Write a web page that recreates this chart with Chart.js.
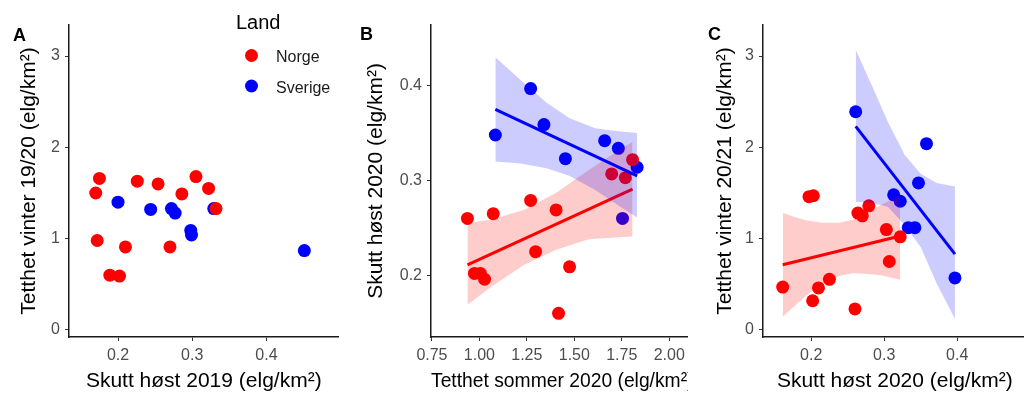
<!DOCTYPE html>
<html>
<head>
<meta charset="utf-8">
<script src="https://cdn.jsdelivr.net/npm/chart.js@4.4.0/dist/chart.umd.min.js"></script>
<style>
  html, body { margin: 0; padding: 0; background: #fff; overflow: hidden; width: 1024px; height: 394px; }
  canvas { position: absolute; top: 0; }
</style>
</head>
<body>
<canvas id="chartA" width="345" height="394" style="left:0px"></canvas>
<canvas id="chartB" width="353" height="394" style="left:347px"></canvas>
<canvas id="chartC" width="345" height="394" style="left:688px"></canvas>
<script>
// ---- data ----
var landLabels = ['Norge', 'Sverige'];
var landColors = ['#ff0000', '#0000ff'];
var bandColors = ['rgba(255,0,0,0.2)', 'rgba(0,0,255,0.2)'];

// A: skutt høst 2019 vs tetthet vinter 19/20
var aNorgeX   = [0.170, 0.175, 0.172, 0.189, 0.202, 0.210, 0.226, 0.254, 0.286, 0.270, 0.305, 0.322, 0.332];
var aNorgeY   = [1.50, 1.66, 0.98, 0.60, 0.59, 0.91, 1.63, 1.60, 1.49, 0.91, 1.68, 1.55, 1.33];
var aSverigeX = [0.200, 0.244, 0.272, 0.277, 0.298, 0.299, 0.329, 0.451];
var aSverigeY = [1.40, 1.32, 1.33, 1.28, 1.09, 1.04, 1.33, 0.87];

// B: tetthet sommer 2020 vs skutt høst 2020
var bNorgeX   = [0.937, 1.073, 1.270, 1.404, 1.296, 1.475, 1.417, 0.974, 1.005, 1.027, 1.697, 1.769, 1.807];
var bNorgeY   = [0.260, 0.265, 0.279, 0.269, 0.225, 0.209, 0.160, 0.202, 0.202, 0.196, 0.307, 0.303, 0.322];
var bSverigeX = [1.084, 1.270, 1.340, 1.453, 1.660, 1.732, 1.831, 1.754];
var bSverigeY = [0.348, 0.397, 0.359, 0.323, 0.342, 0.334, 0.314, 0.260];
var bNorgeFitX   = [0.937, 1.807];
var bNorgeFitY   = [0.211, 0.291];
var bSverigeFitX = [1.084, 1.831];
var bSverigeFitY = [0.375, 0.305];
var bNorgeBandX    = [0.937, 1.063, 1.234, 1.405, 1.576, 1.713, 1.807];
var bNorgeBandLo   = [0.169, 0.188, 0.211, 0.227, 0.238, 0.240, 0.241];
var bNorgeBandHi   = [0.255, 0.259, 0.269, 0.287, 0.311, 0.329, 0.341];
var bSverigeBandX  = [1.084, 1.217, 1.354, 1.473, 1.610, 1.730, 1.831];
var bSverigeBandLo = [0.320, 0.318, 0.313, 0.305, 0.290, 0.274, 0.261];
var bSverigeBandHi = [0.430, 0.406, 0.382, 0.366, 0.355, 0.352, 0.350];

// C: skutt høst 2020 vs tetthet vinter 20/21
var cNorgeX   = [0.197, 0.203, 0.279, 0.264, 0.270, 0.303, 0.322, 0.307, 0.225, 0.210, 0.161, 0.202, 0.260];
var cNorgeY   = [1.46, 1.47, 1.36, 1.28, 1.25, 1.10, 1.02, 0.75, 0.555, 0.46, 0.47, 0.32, 0.23];
var cSverigeX = [0.261, 0.358, 0.347, 0.313, 0.322, 0.333, 0.342, 0.397];
var cSverigeY = [2.39, 2.04, 1.61, 1.48, 1.41, 1.12, 1.12, 0.57];
var cNorgeFitX   = [0.161, 0.322];
var cNorgeFitY   = [0.715, 1.03];
var cSverigeFitX = [0.261, 0.397];
var cSverigeFitY = [2.23, 0.83];
var cNorgeBandX    = [0.161, 0.176, 0.194, 0.216, 0.238, 0.256, 0.274, 0.296, 0.322];
var cNorgeBandLo   = [0.146, 0.255, 0.383, 0.51, 0.59, 0.62, 0.615, 0.60, 0.55];
var cNorgeBandHi   = [1.285, 1.24, 1.20, 1.175, 1.175, 1.205, 1.28, 1.37, 1.48];
var cSverigeBandX  = [0.261, 0.283, 0.305, 0.328, 0.350, 0.372, 0.397];
var cSverigeBandLo = [1.405, 1.39, 1.35, 1.15, 0.91, 0.51, 0.12];
var cSverigeBandHi = [3.07, 2.68, 2.28, 1.92, 1.71, 1.61, 1.57];

Chart.defaults.font.family = '"Liberation Sans", Arial, sans-serif';

function toPoints(xs, ys) {
  return xs.map(function (x, i) { return { x: x, y: ys[i] }; });
}

function pointSet(label, xs, ys, color, order) {
  return { type: 'scatter', label: label, data: toPoints(xs, ys), backgroundColor: color,
           pointRadius: 6.5, pointHoverRadius: 6.5, pointBorderWidth: 0, borderWidth: 0, order: order };
}

// lower edge + upper edge filled back to it, then the fitted line
function fitSets(bx, lo, hi, fx, fy, color, band, order) {
  return [
    { type: 'line', data: toPoints(bx, lo), borderWidth: 0, pointRadius: 0, fill: false, order: order + 2 },
    { type: 'line', data: toPoints(bx, hi), borderWidth: 0, pointRadius: 0, fill: '-1', backgroundColor: band, order: order + 1 },
    { type: 'line', data: toPoints(fx, fy), borderColor: color, borderWidth: 3, pointRadius: 0, fill: false, order: order }
  ];
}

var panelDecor = {
  id: 'panelDecor',
  beforeDraw: function (chart) {
    var ctx = chart.ctx;
    ctx.save();
    ctx.fillStyle = '#fff';
    ctx.fillRect(0, 0, chart.width, chart.height);
    ctx.restore();
  },
  afterDraw: function (chart, args, opts) {
    var ctx = chart.ctx;
    ctx.save();
    ctx.fillStyle = '#000';
    ctx.textBaseline = 'alphabetic';
    ctx.font = 'bold 18px "Liberation Sans", Arial, sans-serif';
    ctx.fillText(opts.letter, opts.letterX, opts.letterY);
    if (opts.legend) {
      ctx.fillStyle = '#000';
      ctx.font = '20px "Liberation Sans", Arial, sans-serif';
      ctx.fillText('Land', 236, 29);
      ctx.font = '16px "Liberation Sans", Arial, sans-serif';
      for (var i = 0; i < landLabels.length; i++) {
        ctx.fillStyle = landColors[i];
        ctx.beginPath();
        ctx.arc(251.5, 55.5 + i * 30.5, 6.5, 0, Math.PI * 2);
        ctx.fill();
        ctx.fillStyle = '#1a1a1a';
        ctx.fillText(landLabels[i], 276, 62 + i * 30.5);
      }
    }
    ctx.restore();
  }
};

function axis(o) {
  return {
    type: 'linear', min: o.min, max: o.max,
    afterFit: o.fit,
    border: { display: true, color: '#1a1a1a', width: 1.5 },
    grid: { drawOnChartArea: false, drawTicks: true, tickLength: 4, color: '#333', lineWidth: 1 },
    ticks: { stepSize: o.step, includeBounds: false, color: '#4d4d4d', font: { size: 16 }, padding: 5, maxRotation: 0,
             callback: function (v) { return Number(v).toFixed(o.dec); } },
    title: { display: true, text: o.title, color: '#000', font: { size: 21 }, padding: o.titlePad }
  };
}

function makeChart(id, datasets, sc, decor) {
  return new Chart(document.getElementById(id), {
    type: 'scatter',
    data: { datasets: datasets },
    options: {
      responsive: false, animation: false, devicePixelRatio: 1,
      layout: { padding: { top: 25, left: 0, right: sc.right, bottom: 0 } },
      plugins: { legend: { display: false }, tooltip: { enabled: false }, panelDecor: decor },
      scales: {
        x: axis({ min: sc.xMin, max: sc.xMax, step: sc.xStep, dec: sc.xDec, title: sc.xTitle,
                  titlePad: { top: 0, bottom: 0 }, fit: function (s) { s.height = 57; } }),
        y: axis({ min: sc.yMin, max: sc.yMax, step: sc.yStep, dec: sc.yDec, title: sc.yTitle,
                  titlePad: { top: sc.yTitlePad, bottom: 0 }, fit: function (s) { s.width = sc.yWidth; } })
      }
    },
    plugins: [panelDecor]
  });
}

makeChart('chartA', [
  pointSet('Norge', aNorgeX, aNorgeY, landColors[0], 10),
  pointSet('Sverige', aSverigeX, aSverigeY, landColors[1], 11)
], { xMin: 0.134, xMax: 0.497, xStep: 0.1, xDec: 1, yMin: -0.077, yMax: 3.34, yStep: 1, yDec: 0,
     xTitle: 'Skutt høst 2019 (elg/km²)', yTitle: 'Tetthet vinter 19/20 (elg/km²)',
     yWidth: 69, yTitlePad: 17, right: 6 },
   { letter: 'A', letterX: 13, letterY: 41, legend: true });

makeChart('chartB', [
  pointSet('Norge', bNorgeX, bNorgeY, landColors[0], 10),
  pointSet('Sverige', bSverigeX, bSverigeY, landColors[1], 11)
].concat(fitSets(bNorgeBandX, bNorgeBandLo, bNorgeBandHi, bNorgeFitX, bNorgeFitY, landColors[0], bandColors[0], 6))
 .concat(fitSets(bSverigeBandX, bSverigeBandLo, bSverigeBandHi, bSverigeFitX, bSverigeFitY, landColors[1], bandColors[1], 2)),
  { xMin: 0.745, xMax: 2.128, xStep: 0.25, xDec: 2, yMin: 0.135, yMax: 0.464, yStep: 0.1, yDec: 1,
    xTitle: 'Tetthet sommer 2020 (elg/km²)', yTitle: 'Skutt høst 2020 (elg/km²)',
    yWidth: 84, yTitlePad: 17, right: 0 },
  { letter: 'B', letterX: 13, letterY: 40 });

makeChart('chartC', [
  pointSet('Norge', cNorgeX, cNorgeY, landColors[0], 10),
  pointSet('Sverige', cSverigeX, cSverigeY, landColors[1], 11)
].concat(fitSets(cNorgeBandX, cNorgeBandLo, cNorgeBandHi, cNorgeFitX, cNorgeFitY, landColors[0], bandColors[0], 6))
 .concat(fitSets(cSverigeBandX, cSverigeBandLo, cSverigeBandHi, cSverigeFitX, cSverigeFitY, landColors[1], bandColors[1], 2)),
  { xMin: 0.134, xMax: 0.495, xStep: 0.1, xDec: 1, yMin: -0.077, yMax: 3.34, yStep: 1, yDec: 0,
    xTitle: 'Skutt høst 2020 (elg/km²)', yTitle: 'Tetthet vinter 20/21 (elg/km²)',
    yWidth: 75, yTitlePad: 24.7, right: 0 },
  { letter: 'C', letterX: 20, letterY: 39.5 });
</script>
</body>
</html>
